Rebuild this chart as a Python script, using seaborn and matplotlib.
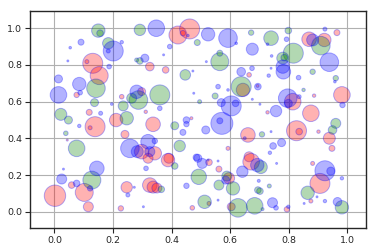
import numpy as np
import pandas as pd
import matplotlib
matplotlib.use("Agg")
import matplotlib.pyplot as plt
import seaborn as sns

# ---- data ----
red_x = [0.131, 0.111, 0.153, 0.326, 0.422, 0.462, 0.439, 0.380, 0.665, 0.644, 0.870, 0.922, 0.965,
         0.076, 0.230, 0.298, 0.119, 0.139, 0.122, 0.211, 0.241, 0.044, 0.298, 0.312, 0.337, 0.468,
         0.661, 0.343, 0.391, 0.593, 0.665, 0.814, 0.887, 0.982, 0.694, 0.728, 0.876, 0.827, 0.836,
         0.902, 0.939, 0.948, 0.059, 0.102, 0.002, 0.116, 0.247, 0.227, 0.326, 0.337, 0.350, 0.388,
         0.320, 0.528, 0.672, 0.562, 0.596, 0.528, 0.471, 0.604, 0.794, 0.882, 0.907, 0.876]
red_y = [0.809, 0.818, 0.742, 0.791, 0.963, 0.996, 0.973, 0.773, 0.746, 0.664, 0.940, 0.936, 0.976,
         0.637, 0.627, 0.655, 0.542, 0.464, 0.458, 0.500, 0.422, 0.391, 0.328, 0.545, 0.477, 0.510,
         0.419, 0.319, 0.292, 0.346, 0.300, 0.600, 0.633, 0.637, 0.686, 0.542, 0.537, 0.442, 0.437,
         0.437, 0.401, 0.346, 0.146, 0.106, 0.088, 0.028, 0.134, 0.019, 0.146, 0.135, 0.130, 0.282,
         0.292, 0.270, 0.273, 0.233, 0.183, 0.046, 0.022, 0.028, 0.014, 0.264, 0.155, 0.059]
red_r = [10, 2, 9, 4.3, 9, 10, 2.7, 3.3, 2.3, 6.7, 7.3, 6.7, 3,
         2.7, 2.3, 4, 3, 10, 2, 6.7, 4, 1, 7.3, 1.7, 7.3, 1.5,
         7.3, 6.7, 5, 2, 5, 8.3, 1.7, 8.3, 1.5, 1.7, 8.3, 10, 3.3,
         1.7, 6, 3, 3.3, 9, 10.7, 5, 5.7, 2.7, 7.3, 6, 5, 6.7,
         5, 3.3, 8.3, 3, 5.7, 2, 2.3, 4, 2.7, 2, 10, 2]

green_x = [0.150, 0.156, 0.184, 0.292, 0.281, 0.292, 0.488, 0.565, 0.565, 0.672, 0.447, 0.638, 0.740,
           0.799, 0.910, 0.816, 0.780, 0.785, 0.882, 0.961, 0.142, 0.137, 0.235, 0.287, 0.264, 0.022,
           0.048, 0.247, 0.039, 0.076, 0.360, 0.549, 0.496, 0.411, 0.428, 0.851, 0.961, 0.950, 0.709,
           0.128, 0.411, 0.365, 0.493, 0.562, 0.610, 0.589, 0.695, 0.513, 0.627, 0.684, 0.702, 0.734,
           0.711, 0.865, 0.982, 0.705]
green_y = [0.987, 0.973, 0.918, 0.991, 0.827, 0.822, 0.922, 0.818, 0.864, 0.976, 0.746, 0.682, 0.946,
           0.987, 0.905, 0.864, 0.837, 0.840, 0.763, 0.728, 0.673, 0.595, 0.577, 0.609, 0.619, 0.531,
           0.500, 0.510, 0.428, 0.346, 0.637, 0.631, 0.600, 0.469, 0.359, 0.664, 0.482, 0.446, 0.422,
           0.173, 0.250, 0.123, 0.191, 0.146, 0.128, 0.195, 0.119, 0.055, 0.022, 0.033, 0.113, 0.141,
           0.015, 0.104, 0.025, 0.244]
green_r = [6.7, 3.3, 5.7, 5.7, 2, 3.3, 3, 9, 3, 2.7, 5.3, 10, 7.3,
           3.3, 9.3, 10, 6, 3.3, 2.7, 2.7, 9.3, 4, 5, 9.3, 5, 6,
           4, 6.7, 2.3, 8.3, 10, 3, 2, 4, 5.7, 1.7, 5, 4.3, 2.7,
           9, 3.3, 3.3, 7.7, 5, 6.7, 5, 3.3, 6.7, 9.3, 8.3, 3.3, 2,
           1.5, 6.7, 6.7, 6.5]

blue_x = [0.091, 0.054, 0.201, 0.184, 0.230, 0.046, 0.187, 0.014, 0.085, 0.309, 0.348, 0.456, 0.525,
          0.593, 0.621, 0.676, 0.394, 0.373, 0.473, 0.519, 0.638, 0.675, 0.728, 0.793, 0.882, 0.924,
          0.780, 0.782, 0.742, 0.740, 0.732, 0.834, 0.939, 0.958, 0.014, 0.088, 0.196, 0.281, 0.158,
          0.085, 0.258, 0.283, 0.476, 0.559, 0.570, 0.604, 0.619, 0.593, 0.676, 0.695, 0.360, 0.572,
          0.565, 0.451, 0.451, 0.439, 0.517, 0.650, 0.320, 0.343, 0.326, 0.485, 0.525, 0.797, 0.799,
          0.836, 0.984, 0.757, 0.702, 0.740, 0.776, 0.747, 0.736, 0.145, 0.025, 0.031, 0.076, 0.122,
          0.251, 0.273, 0.304, 0.313, 0.490, 0.505, 0.559, 0.693, 0.642, 0.451, 0.585, 0.559, 0.698,
          0.745, 0.757, 0.799, 0.759, 0.924, 0.944, 0.897, 0.924, 0.967, 0.982, 0.853]
blue_y = [0.924, 0.894, 0.876, 0.876, 0.924, 0.822, 0.791, 0.724, 0.696, 0.837, 1.000, 0.960, 0.967,
          0.946, 0.918, 0.886, 0.900, 0.855, 0.767, 0.818, 0.763, 0.782, 0.913, 0.940, 0.936, 0.995,
          0.791, 0.763, 0.849, 0.782, 0.742, 0.731, 0.815, 0.709, 0.637, 0.649, 0.587, 0.654, 0.537,
          0.468, 0.346, 0.328, 0.646, 0.682, 0.595, 0.577, 0.591, 0.664, 0.613, 0.682, 0.564, 0.482,
          0.496, 0.500, 0.478, 0.433, 0.446, 0.401, 0.382, 0.386, 0.328, 0.297, 0.282, 0.619, 0.591,
          0.627, 0.582, 0.549, 0.586, 0.437, 0.377, 0.359, 0.322, 0.237, 0.179, 0.233, 0.155, 0.128,
          0.092, 0.134, 0.028, 0.237, 0.292, 0.264, 0.277, 0.255, 0.219, 0.142, 0.173, 0.064, 0.169,
          0.050, 0.022, 0.028, 0.264, 0.224, 0.222, 0.082, 0.059, 0.055, 0.183, 0.046]
blue_r = [3, 1.3, 10, 2, 1.7, 1, 2.3, 4, 6.7, 4, 8.3, 1.3, 6.7,
          9.3, 1.3, 6, 2.3, 1, 1, 1, 4.3, 2.3, 1.3, 2.3, 6, 2,
          6.7, 7.3, 1.3, 1, 1.7, 2.3, 9.3, 1.3, 8.3, 2.3, 1.3, 6.7, 2,
          1.7, 9.3, 6, 1, 2.3, 4, 10, 3.3, 1.3, 1, 3.3, 2.3, 11,
          3, 3.3, 2.7, 3, 4, 1.5, 7.3, 2.7, 5, 3.3, 1, 9.3, 4,
          2, 2.7, 5.7, 1, 1, 4, 3.3, 1.7, 7.3, 5, 1, 3.3, 2.7,
          2, 1, 1, 2.3, 4, 5, 1, 6.7, 5.7, 2.7, 4, 1, 1.5,
          5, 2.3, 1.7, 1, 10, 4, 1, 1.7, 4.3, 1.7, 1]

ticks = [0.0, 0.2, 0.4, 0.6, 0.8, 1.0]
tick_labels = ["0.0", "0.2", "0.4", "0.6", "0.8", "1.0"]

# ---- figure ----
DPI = 100
sns.set_theme(style="ticks")
plt.rcParams["font.family"] = ["DejaVu Sans"]

fig = plt.figure(figsize=(3.75, 2.52), dpi=DPI)
ax = fig.add_axes([0.081, 0.095, 0.894, 0.863])

def px_to_s(r):
    # radius in pixels -> marker area in points^2
    return (2 * np.asarray(r) * 72.0 / DPI) ** 2

for xs, ys, rs, col in [(red_x, red_y, red_r, "red"),
                        (green_x, green_y, green_r, "green"),
                        (blue_x, blue_y, blue_r, "blue")]:
    df = pd.DataFrame({"x": xs, "y": ys})
    sns.scatterplot(data=df, x="x", y="y", ax=ax, color=col, s=px_to_s(rs),
                    alpha=0.3, edgecolor="blue", linewidth=0.7, legend=False, zorder=3)

ax.set_xlim(-0.082, 1.063)
ax.set_ylim(-0.088, 1.096)
ax.set_xticks(ticks)
ax.set_xticklabels(tick_labels)
ax.set_yticks(ticks)
ax.set_yticklabels(tick_labels)
ax.set_xlabel("")
ax.set_ylabel("")
ax.grid(True, color="#b0b0b0", linewidth=0.8, zorder=0)
ax.set_axisbelow(True)
for sp in ax.spines.values():
    sp.set_color("#262626")
    sp.set_linewidth(1.0)
ax.tick_params(axis="both", labelsize=6.8, length=3.5, width=0.8, color="#262626",
               labelcolor="#262626", pad=2.5)

fig.savefig("out.png", dpi=DPI)
